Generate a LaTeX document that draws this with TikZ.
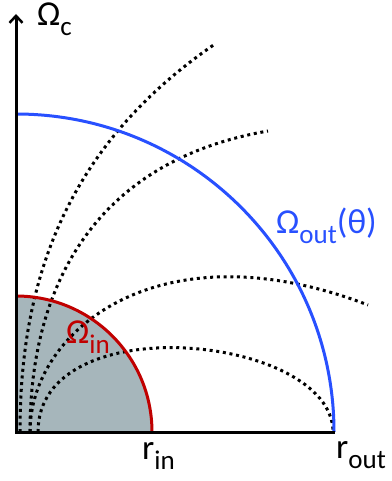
\documentclass[tikz,border=0pt]{standalone}
\usepackage{fontspec}
\setmainfont{Carlito}
\usetikzlibrary{arrows.meta}
\definecolor{arcblue}{RGB}{40,80,255}
\definecolor{arcred}{RGB}{192,0,0}
\definecolor{diskfill}{RGB}{166,182,187}
\newcommand\lsub[1]{\raisebox{-10pt}{\fontsize{27}{27}\selectfont #1}}
\tikzset{
  lab/.style={inner sep=0pt, anchor=base west, font=\fontsize{35}{35}\selectfont},
  axisline/.style={line width=3pt, black},
  fieldline/.style={line width=3pt, dash pattern=on 3pt off 3.7pt, black},
  outarc/.style={line width=3pt, arcblue},
  inarc/.style={line width=3pt, arcred},
}
\begin{document}
\begin{tikzpicture}[x=1pt,y=-1pt]
\useasboundingbox (0,0) rectangle (391,481);
\coordinate (O) at (16,432);
\coordinate (top) at (16,14);
\coordinate (xend) at (335,432);
% inner disk
\fill[diskfill] (O) -- (152,432) arc[start angle=0,end angle=-90,radius=136] -- cycle;
% field lines
\draw[fieldline] (20,432) .. controls (20,290) and (60,150) .. (215,44);
\draw[fieldline] (30,432) .. controls (30,280) and (100,160) .. (268,131);
\draw[fieldline] (30,432) .. controls (30,330) and (160,225) .. (368,305);
\draw[fieldline] (38,432) .. controls (38,305) and (333,335) .. (333,432);
% arcs
\draw[outarc] (334,432) arc[start angle=0,end angle=-90,radius=318];
\draw[inarc] (152,432) arc[start angle=0,end angle=-90,radius=136];
% axes
\draw[axisline,{Straight Barb[length=7pt,width=13pt,line width=2.5pt]}-] (top) -- (O) -- (xend);
% labels
\node[lab] (oc) at (37,26) {Ω\lsub{c}};
\node[lab, text=arcblue] (oout) at (276,233) {Ω\lsub{out}(θ)};
\node[lab, text=arcred] (oin) at (66,343) {Ω\lsub{in}};
\node[lab] (rin) at (142,459) {r\lsub{in}};
\node[lab] (rout) at (336,458) {r\lsub{out}};
\end{tikzpicture}
\end{document}
